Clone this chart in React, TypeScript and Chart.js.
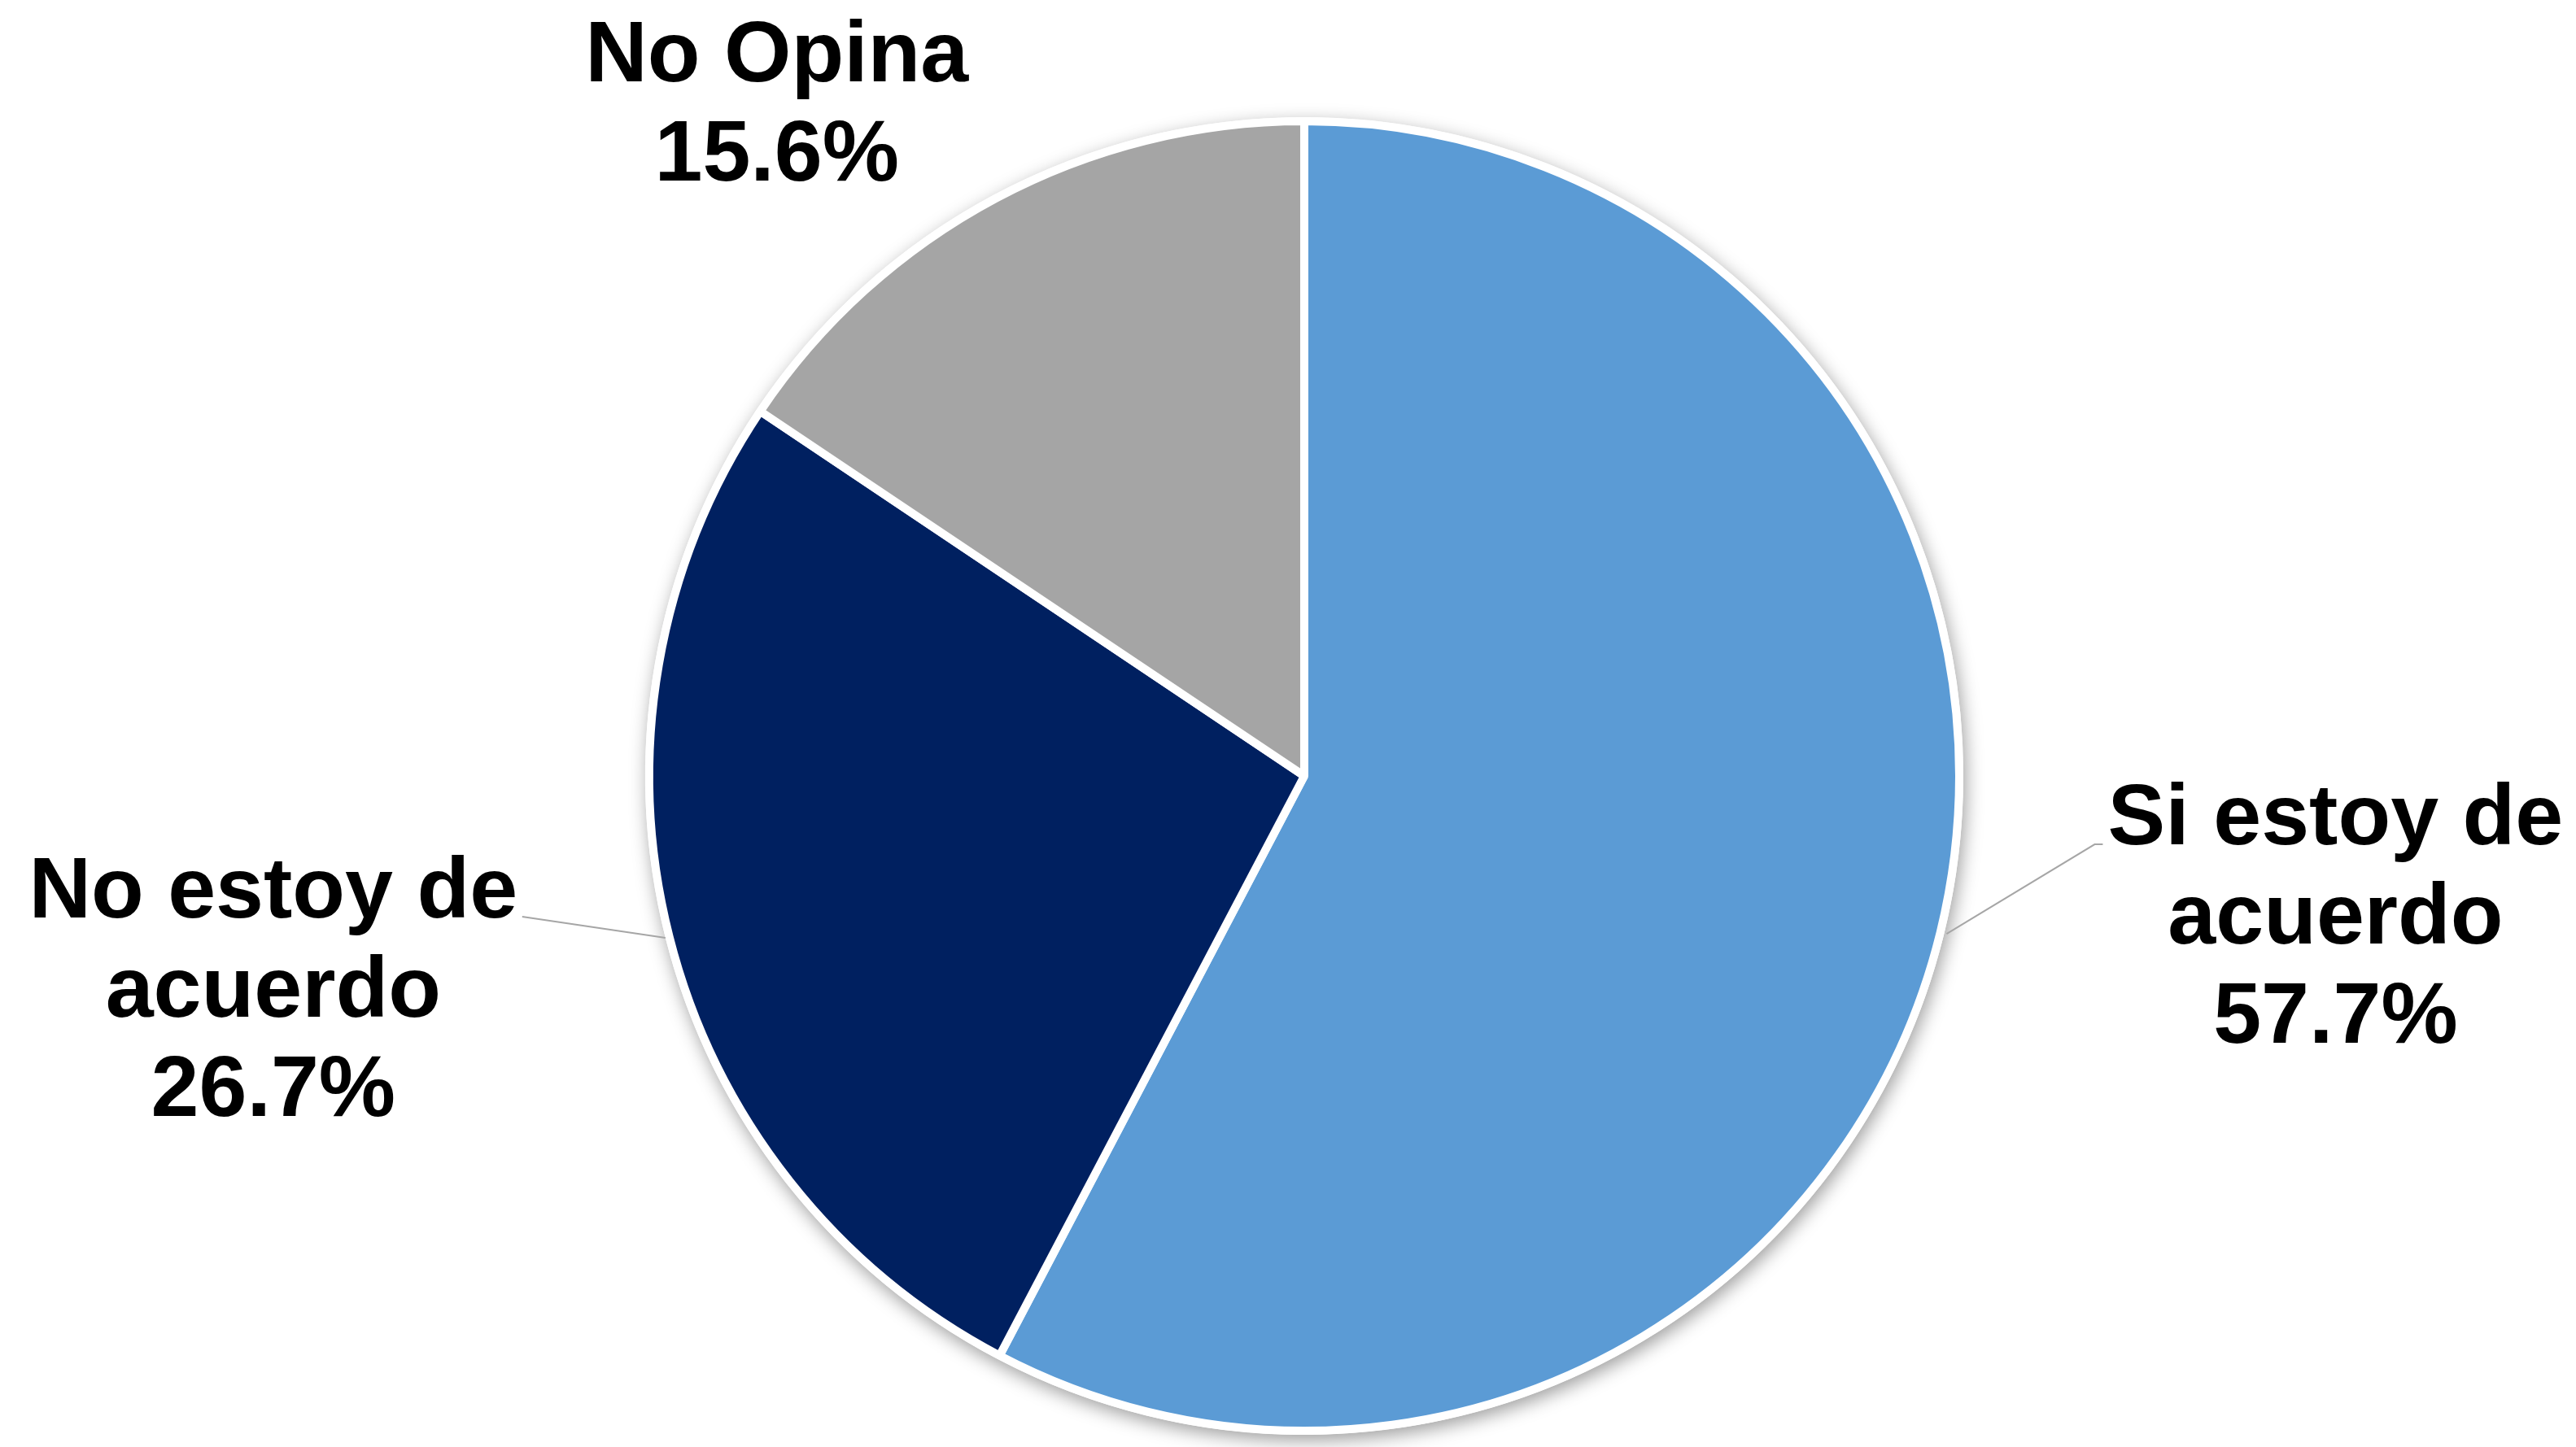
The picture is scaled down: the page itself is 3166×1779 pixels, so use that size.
import React, { useEffect, useRef } from "react";
import { Chart, registerables } from "chart.js";

Chart.register(...registerables);

const categories = ["Si estoy de acuerdo", "No estoy de acuerdo", "No Opina"];
const labelLines = [["Si estoy de", "acuerdo"], ["No estoy de", "acuerdo"], ["No Opina"]];
const values = [57.7, 26.7, 15.6];
const sliceColors = ["#5B9BD5", "#002060", "#A5A5A5"];

const W = 3166;
const H = 1779;
const BORDER = 10;
const FONT = "bold 106px 'Liberation Sans', Arial, Helvetica, sans-serif";
const LINE_H = 122;

// label placement relative to the slice's outer edge at its mid angle
const placements = [
  { dx: 481, dy: -110, leader: [[3, 0], [185, -110], [195, -110]] },
  { dx: -482, dy: -25, leader: [[0, 0], [-176, -26]] },
  { dx: -267, dy: -139, leader: null as null | number[][] },
];

const shadowPlugin = {
  id: "pieShadow",
  beforeDatasetsDraw(chart: any) {
    const meta = chart.getDatasetMeta(0);
    const arc = meta.data[0];
    if (!arc) return;
    const { x, y, outerRadius } = arc.getProps(["x", "y", "outerRadius"], true);
    const ctx = chart.ctx;
    ctx.save();
    ctx.shadowColor = "rgba(0,0,0,0.38)";
    ctx.shadowBlur = 22;
    ctx.shadowOffsetX = 3;
    ctx.shadowOffsetY = 7;
    ctx.fillStyle = "#ffffff";
    ctx.beginPath();
    ctx.arc(x, y, outerRadius + BORDER / 2, 0, Math.PI * 2);
    ctx.fill();
    ctx.restore();
  },
};

const labelPlugin = {
  id: "sliceLabels",
  afterDatasetsDraw(chart: any) {
    const meta = chart.getDatasetMeta(0);
    const ctx = chart.ctx;
    meta.data.forEach((arc: any, i: number) => {
      const { x, y, startAngle, endAngle, outerRadius } = arc.getProps(
        ["x", "y", "startAngle", "endAngle", "outerRadius"],
        true
      );
      const mid = (startAngle + endAngle) / 2;
      const r = outerRadius + BORDER / 2;
      const ex = x + Math.cos(mid) * r;
      const ey = y + Math.sin(mid) * r;
      const p = placements[i];
      ctx.save();
      if (p.leader) {
        ctx.strokeStyle = "#A6A6A6";
        ctx.lineWidth = 2;
        ctx.beginPath();
        p.leader.forEach((pt, k) => {
          if (k === 0) ctx.moveTo(ex + pt[0], ey + pt[1]);
          else ctx.lineTo(ex + pt[0], ey + pt[1]);
        });
        ctx.stroke();
      }
      const lines = [...labelLines[i], values[i].toFixed(1) + "%"];
      ctx.font = FONT;
      ctx.fillStyle = "#000000";
      ctx.textAlign = "center";
      ctx.textBaseline = "alphabetic";
      lines.forEach((t, k) => {
        ctx.fillText(t, ex + p.dx, ey + p.dy + k * LINE_H);
      });
      ctx.restore();
    });
  },
};

export default function App() {
  const ref = useRef<HTMLCanvasElement>(null);
  useEffect(() => {
    if (!ref.current) return;
    const chart = new Chart(ref.current, {
      type: "pie",
      data: {
        labels: categories,
        datasets: [
          {
            data: values,
            backgroundColor: sliceColors,
            borderColor: "#ffffff",
            borderWidth: BORDER,
          },
        ],
      },
      options: {
        animation: false,
        responsive: false,
        devicePixelRatio: 1,
        layout: { padding: { left: 793, right: 753, top: 144, bottom: 15 } },
        plugins: {
          legend: { display: false },
          tooltip: { enabled: false },
        },
      },
      plugins: [shadowPlugin, labelPlugin],
    });
    return () => chart.destroy();
  }, []);
  return (
    <div style={{ position: "fixed", left: 0, top: 0, width: W, height: H, background: "#fff" }}>
      <canvas ref={ref} width={W} height={H} style={{ width: W, height: H, display: "block" }} />
    </div>
  );
}
